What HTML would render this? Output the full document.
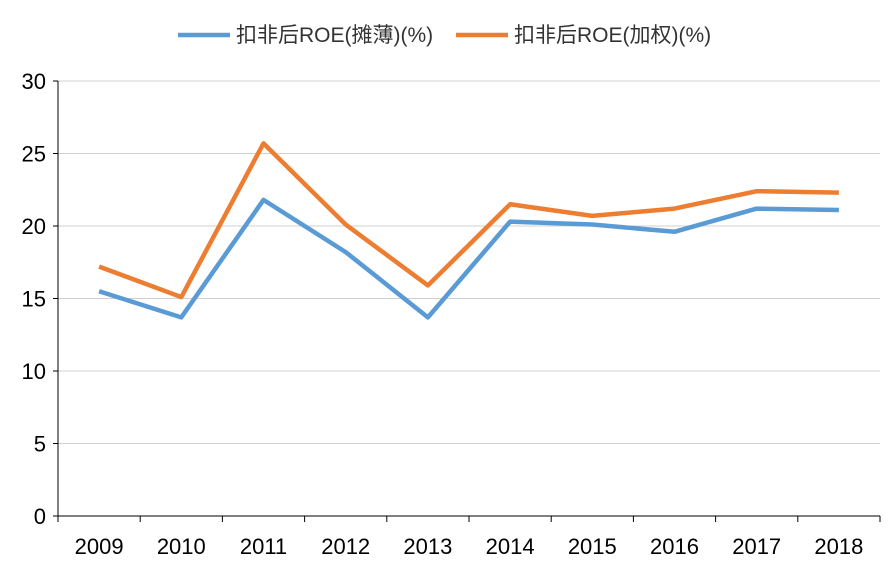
<!DOCTYPE html>
<html><head><meta charset="utf-8"><style>
html,body{margin:0;padding:0;background:#fff;}
svg{display:block;font-family:"Liberation Sans","Noto Sans CJK SC",sans-serif;}
</style></head><body>
<svg id="chart" width="896" height="564"></svg>
<script>
const categories=["2009","2010","2011","2012","2013","2014","2015","2016","2017","2018"];
const dilutedRoe=[15.5,13.7,21.8,18.2,13.7,20.3,20.1,19.6,21.2,21.1];
const weightedRoe=[17.2,15.1,25.7,20.1,15.9,21.5,20.7,21.2,22.4,22.3];
const yTicks=[0,5,10,15,20,25,30];
const seriesNames=["扣非后ROE(摊薄)(%)","扣非后ROE(加权)(%)"];

const NS="http://www.w3.org/2000/svg";
const svg=document.getElementById('chart');
const X0=58,X1=880,Y0=516,Y1=81,YMAX=30;
const bw=(X1-X0)/categories.length;
const xs=i=>X0+bw*(i+0.5);
const ys=v=>Y0-(v/YMAX)*(Y0-Y1);
function mk(t,a){const e=document.createElementNS(NS,t);for(const k in a)e.setAttribute(k,a[k]);svg.appendChild(e);return e;}

yTicks.forEach(t=>{
  if(t>0){const g=mk('line',{x1:X0,x2:X1,y1:ys(t),y2:ys(t),stroke:'#d0d0d0','stroke-width':1});
  
  }
  const tk=mk('line',{x1:X0-5,x2:X0,y1:ys(t),y2:ys(t),stroke:'#000','stroke-width':1});
  
  
  const l=mk('text',{x:X0-12,y:ys(t)+8,'text-anchor':'end','font-size':22,fill:'#000'});
  l.textContent=t;
  
  
});
const ya=mk('line',{x1:X0,x2:X0,y1:Y1,y2:Y0,stroke:'#000','stroke-width':1});


const xa=mk('line',{x1:X0,x2:X1,y1:Y0,y2:Y0,stroke:'#000','stroke-width':1});


for(let i=0;i<=categories.length;i++){
  const tk=mk('line',{x1:X0+bw*i,x2:X0+bw*i,y1:Y0,y2:Y0+6,stroke:'#000','stroke-width':1});
  
  
}
categories.forEach((c,i)=>{
  const l=mk('text',{x:xs(i),y:554,'text-anchor':'middle','font-size':22,fill:'#000'});
  l.textContent=c;
  
  
});
function line(vals,color,name){
  const p=mk('polyline',{points:vals.map((v,i)=>xs(i)+','+ys(v)).join(' '),fill:'none',stroke:color,'stroke-width':4.5,'stroke-linejoin':'round'});
  
  
}
line(dilutedRoe,'#5b9bd5','diluted-roe-line');
line(weightedRoe,'#ed7d31','weighted-roe-line');

[[178,'#5b9bd5',236],[456,'#ed7d31',514]].forEach((d,k)=>{
  const s=mk('line',{x1:d[0],x2:d[0]+52,y1:35,y2:35,stroke:d[1],'stroke-width':4.5});
  
  
  const t=mk('text',{x:d[2],y:42,'font-size':21,fill:'#333'});
  t.textContent=seriesNames[k];
  
  
});
</script>
</body></html>
